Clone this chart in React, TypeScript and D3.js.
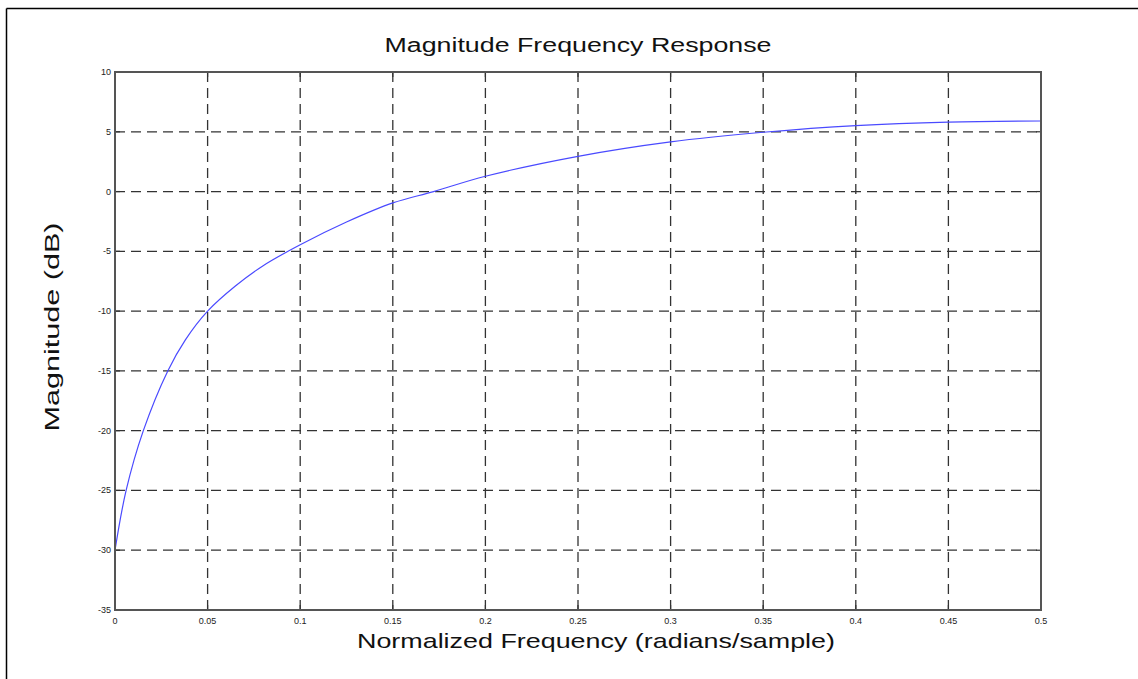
import React from "react";
import * as d3 from "d3";

const freq = [0, 0.006, 0.0153, 0.0285, 0.038, 0.05, 0.065, 0.08, 0.1, 0.125, 0.15, 0.172, 0.2, 0.25, 0.3, 0.35, 0.4, 0.45, 0.5];
const magnitude = [-30, -25, -20, -15, -12.4, -10, -7.9, -6.2, -4.45, -2.55, -0.95, 0, 1.28, 2.95, 4.16, 4.96, 5.52, 5.81, 5.9];
const xTicks = [0, 0.05, 0.1, 0.15, 0.2, 0.25, 0.3, 0.35, 0.4, 0.45, 0.5];
const yTicks = [10, 5, 0, -5, -10, -15, -20, -25, -30, -35];
const xTickLabels = ["0", "0.05", "0.1", "0.15", "0.2", "0.25", "0.3", "0.35", "0.4", "0.45", "0.5"];
const yTickLabels = ["10", "5", "0", "-5", "-10", "-15", "-20", "-25", "-30", "-35"];

const W = 1138;
const H = 679;
const L = 115, R = 1041, T = 72, B = 610;

export default function App() {
  const x = d3.scaleLinear().domain([0, 0.5]).range([L, R]);
  const y = d3.scaleLinear().domain([-35, 10]).range([B, T]);
  const pts = freq.map((f, i) => [f, magnitude[i]] as [number, number]);
  const line = d3
    .line<[number, number]>()
    .x((d) => x(d[0]))
    .y((d) => y(d[1]))
    .curve(d3.curveCatmullRom.alpha(0.5));
  const tick = 5;
  const font = "'Liberation Sans', Arial, sans-serif";
  return (
    <svg
      width={W}
      height={H}
      style={{ position: "absolute", left: 0, top: 0, background: "#fff" }}
    >
      <rect x={0} y={0} width={W} height={H} fill="#fff" />
      {/* outer frame */}
      <line x1={6.5} y1={8.5} x2={W} y2={8.5} stroke="#000" strokeWidth={1.5} />
      <line x1={6.5} y1={8.5} x2={6.5} y2={H} stroke="#000" strokeWidth={1.5} />
      {/* grid */}
      {xTicks.slice(1, -1).map((t) => (
        <line
          key={"gx" + t}
          x1={x(t)}
          x2={x(t)}
          y1={T}
          y2={B}
          stroke="#333"
          strokeWidth={1.3}
          strokeDasharray="10,6"
        />
      ))}
      {yTicks.slice(1, -1).map((t) => (
        <line
          key={"gy" + t}
          x1={L}
          x2={R}
          y1={y(t)}
          y2={y(t)}
          stroke="#333"
          strokeWidth={1.3}
          strokeDasharray="10,6"
        />
      ))}
      {/* ticks */}
      {xTicks.map((t) => (
        <g key={"tx" + t}>
          <line x1={x(t)} x2={x(t)} y1={B} y2={B - tick} stroke="#333" strokeWidth={1.2} />
          <line x1={x(t)} x2={x(t)} y1={T} y2={T + tick} stroke="#333" strokeWidth={1.2} />
        </g>
      ))}
      {yTicks.map((t) => (
        <g key={"ty" + t}>
          <line x1={L} x2={L + tick} y1={y(t)} y2={y(t)} stroke="#333" strokeWidth={1.2} />
          <line x1={R} x2={R - tick} y1={y(t)} y2={y(t)} stroke="#333" strokeWidth={1.2} />
        </g>
      ))}
      {/* curve */}
      <path d={line(pts) || ""} fill="none" stroke="#4a4aff" strokeWidth={1.2} />
      {/* axes box */}
      <rect x={L} y={T} width={R - L} height={B - T} fill="none" stroke="#555" strokeWidth={2} />
      {/* tick labels */}
      {xTicks.map((t, i) => (
        <text
          key={"lx" + t}
          x={x(t)}
          y={624}
          textAnchor="middle"
          fontFamily={font}
          fontSize={9}
          fill="#222"
        >
          {xTickLabels[i]}
        </text>
      ))}
      {yTicks.map((t, i) => (
        <text
          key={"ly" + t}
          x={111}
          y={y(t) + 3}
          textAnchor="end"
          fontFamily={font}
          fontSize={9}
          fill="#222"
        >
          {yTickLabels[i]}
        </text>
      ))}
      {/* title */}
      <text
        x={(L + R) / 2}
        y={52}
        textAnchor="middle"
        fontFamily={font}
        fontSize={20}
        fill="#111"
        textLength={387}
        lengthAdjust="spacingAndGlyphs"
      >
        Magnitude Frequency Response
      </text>
      <text
        x={(L + R) / 2 + 18}
        y={648}
        textAnchor="middle"
        fontFamily={font}
        fontSize={21}
        fill="#111"
        textLength={478}
        lengthAdjust="spacingAndGlyphs"
      >
        Normalized Frequency (radians/sample)
      </text>
      <text
        transform={`translate(59, ${(T + B) / 2 - 14}) rotate(-90)`}
        textAnchor="middle"
        fontFamily={font}
        fontSize={20}
        fill="#111"
        textLength={209}
        lengthAdjust="spacingAndGlyphs"
      >
        Magnitude (dB)
      </text>
    </svg>
  );
}
